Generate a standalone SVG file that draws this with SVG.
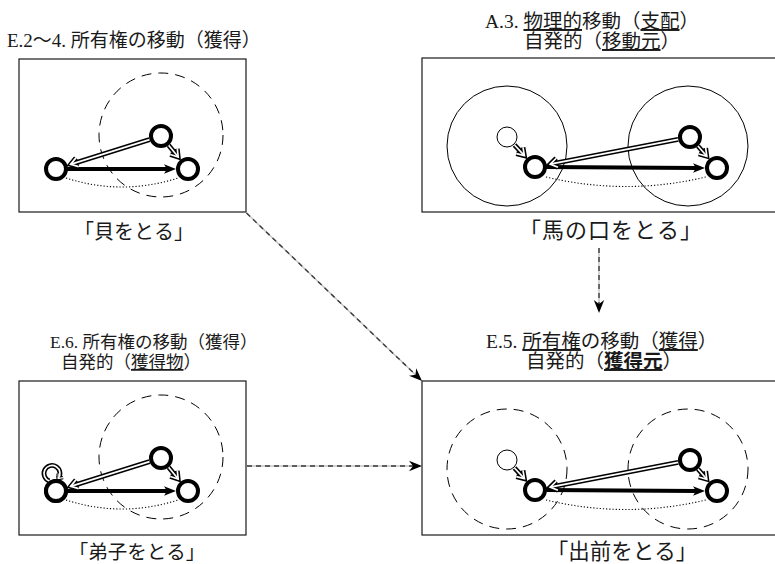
<svg xmlns="http://www.w3.org/2000/svg" width="775" height="564" viewBox="0 0 775 564">
<style>
.t{font-family:"Liberation Serif","Noto Sans CJK JP",serif;fill:#1a1a1a}
.u{text-decoration:underline}
.box{fill:none;stroke:#1a1a1a;stroke-width:1.2}
.nd{fill:#fff;stroke:#000;stroke-width:4}
.wn{fill:#fff;stroke:#000;stroke-width:1}
.dc{fill:none;stroke:#000;stroke-width:1;stroke-dasharray:10 7}
.sc{fill:none;stroke:#000;stroke-width:1}
.bold{fill:none;stroke:#000;stroke-width:3.8}
.dk{fill:none;stroke:#000;stroke-width:4.8}
.dw{fill:none;stroke:#fff;stroke-width:1.7}
.dot{fill:none;stroke:#000;stroke-width:1.1;stroke-dasharray:1.2 2}
.cb{fill:none;stroke:#c4c4c4;stroke-width:1.4}
.cd{fill:none;stroke:#3a3a3a;stroke-width:1.4;stroke-dasharray:5 4}
</style>
<defs>
<marker id="bh" markerUnits="userSpaceOnUse" viewBox="0 -6 13 12" markerWidth="13" markerHeight="12" refX="3" refY="0" orient="auto"><path d="M12,0 L0,-4.8 L3,0 L0,4.8 Z" fill="#000"/></marker>
<marker id="mk" markerUnits="userSpaceOnUse" viewBox="-14 -10 22 20" markerWidth="22" markerHeight="20" refX="0" refY="0" orient="auto"><path d="M-7,-4.6 L0,0 L-7,4.6" fill="none" stroke="#000" stroke-width="4.8"/></marker>
<marker id="mw" markerUnits="userSpaceOnUse" viewBox="-14 -10 22 20" markerWidth="22" markerHeight="20" refX="0" refY="0" orient="auto"><path d="M-7,-4.6 L0,0 L-7,4.6" fill="none" stroke="#fff" stroke-width="1.7"/></marker>
<marker id="sk" markerUnits="userSpaceOnUse" viewBox="-10 -8 16 16" markerWidth="16" markerHeight="16" refX="0" refY="0" orient="auto"><path d="M-4,-3.2 L0,0 L-4,3.2" fill="none" stroke="#000" stroke-width="3.4"/></marker>
<marker id="sw" markerUnits="userSpaceOnUse" viewBox="-10 -8 16 16" markerWidth="16" markerHeight="16" refX="0" refY="0" orient="auto"><path d="M-4,-3.2 L0,0 L-4,3.2" fill="none" stroke="#fff" stroke-width="1.1"/></marker>
<marker id="ca" markerUnits="userSpaceOnUse" viewBox="0 -6 14 12" markerWidth="14" markerHeight="12" refX="4" refY="0" orient="auto"><path d="M13,0 L0,-5.2 L4,0 L0,5.2 Z" fill="#000"/></marker>
<g id="d1">
<circle class="dc" cx="161" cy="135" r="62"/>
<path class="dot" d="M66,178 Q122,196 178,178"/>
<path class="bold" d="M67,169 H167" marker-end="url(#bh)"/>
<path class="dk" d="M149.5,139.6 L70.6,164.4" marker-end="url(#mk)"/>
<path class="dw" d="M149.5,139.6 L70.6,164.4" marker-end="url(#mw)"/>
<path class="dk" d="M168.6,145.3 L178.2,157" marker-end="url(#mk)"/>
<path class="dw" d="M168.6,145.3 L178.2,157" marker-end="url(#mw)"/>
<circle class="nd" cx="56" cy="169" r="10"/>
<circle class="nd" cx="161" cy="136" r="10"/>
<circle class="nd" cx="188" cy="169" r="10"/>
</g>
<g id="d2">
<path class="dot" d="M546,177 Q626,196 706,177"/>
<path class="bold" d="M546,167 L696,168" marker-end="url(#bh)"/>
<path class="dk" d="M678.2,139.3 L550.2,164.1" marker-end="url(#mk)"/>
<path class="dw" d="M678.2,139.3 L550.2,164.1" marker-end="url(#mw)"/>
<path class="dk" d="M697.9,146 L706.8,156.3" marker-end="url(#mk)"/>
<path class="dw" d="M697.9,146 L706.8,156.3" marker-end="url(#mw)"/>
<path class="dk" d="M514.5,145 L524.4,155.7" marker-end="url(#mk)"/>
<path class="dw" d="M514.5,145 L524.4,155.7" marker-end="url(#mw)"/>
<circle class="wn" cx="507" cy="137" r="10"/>
<circle class="nd" cx="535" cy="167" r="10"/>
<circle class="nd" cx="690" cy="137" r="10"/>
<circle class="nd" cx="717" cy="168" r="10"/>
</g>
</defs>

<g id="connectors">
<path class="cb" d="M246.5,213 L415.5,374.8"/>
<path class="cd" d="M246.5,213 L415.5,374.8" marker-end="url(#ca)"/>
<path class="cb" d="M247,466 H413"/>
<path class="cd" d="M247,466 H413" marker-end="url(#ca)"/>
<path class="cb" d="M599,248 V304"/>
<path class="cd" d="M599,248 V304" marker-end="url(#ca)"/>
</g>

<g id="panel-e24">
<text class="t" x="7" y="47" font-size="19">E.2～4. 所有権の移動（獲得）</text>
<rect class="box" x="19" y="59" width="227" height="153"/>
<use href="#d1"/>
<text class="t" x="134" y="239" font-size="20" text-anchor="middle">「貝をとる」</text>
</g>

<g id="panel-a3">
<text class="t" x="485" y="28" font-size="19.5">A.3. <tspan class="u">物理的</tspan>移動（<tspan class="u">支配</tspan>）</text>
<text class="t" x="524" y="48" font-size="19.5">自発的（<tspan class="u">移動元</tspan>）</text>
<rect class="box" x="422" y="58" width="360" height="154"/>
<circle class="sc" cx="507" cy="146" r="60"/>
<circle class="sc" cx="688" cy="146" r="60"/>
<use href="#d2"/>
<text class="t" x="611" y="238" font-size="22" letter-spacing="1" text-anchor="middle">「馬の口をとる」</text>
</g>

<g id="panel-e6">
<text class="t" x="50" y="348" font-size="17.5">E.6. 所有権の移動（獲得）</text>
<text class="t" x="61" y="368" font-size="17.5">自発的（<tspan class="u">獲得物</tspan>）</text>
<rect class="box" x="19" y="381" width="227" height="154"/>
<g transform="translate(0,322)">
<use href="#d1"/>
<path class="dk" d="M49.3,159 A8,8 0 1 1 58.1,156.6" stroke-width="3.4" marker-end="url(#sk)"/>
<path class="dw" d="M49.3,159 A8,8 0 1 1 58.1,156.6" stroke-width="1.1" marker-end="url(#sw)"/>
<circle class="nd" cx="56" cy="169" r="10"/>
</g>
<text class="t" x="137" y="559" font-size="19.5" text-anchor="middle">「弟子をとる」</text>
</g>

<g id="panel-e5">
<text class="t" x="486" y="348" font-size="19.5">E.5. <tspan class="u">所有権</tspan>の移動（<tspan class="u">獲得</tspan>）</text>
<text class="t" x="526" y="368" font-size="19.5">自発的（<tspan class="u" font-weight="bold">獲得元</tspan>）</text>
<rect class="box" x="422" y="381" width="360" height="154"/>
<circle class="dc" cx="507" cy="469" r="60"/>
<circle class="dc" cx="688" cy="469" r="60"/>
<g transform="translate(0,323)"><use href="#d2"/></g>
<text class="t" x="622" y="559" font-size="21.5" text-anchor="middle">「出前をとる」</text>
</g>
</svg>
